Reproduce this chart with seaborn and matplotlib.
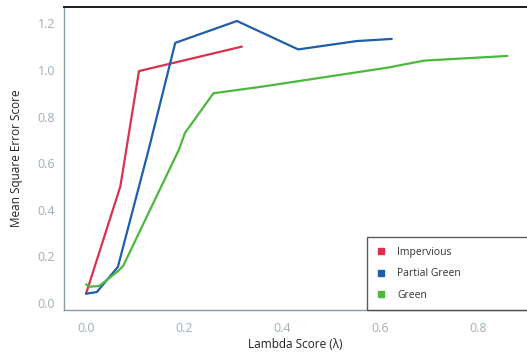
import matplotlib
matplotlib.use("Agg")
import matplotlib.pyplot as plt
from matplotlib.lines import Line2D
import numpy as np
import pandas as pd
import seaborn as sns

# Series values (lambda score vs. mean square error score)
impervious_x = [0.0, 0.07, 0.108, 0.318]
impervious_y = [0.04, 0.50, 0.995, 1.10]

partial_x = [0.0, 0.022, 0.065, 0.128, 0.182, 0.308, 0.433, 0.553, 0.624]
partial_y = [0.04, 0.047, 0.155, 0.66, 1.116, 1.21, 1.088, 1.124, 1.133]

green_x = [0.0, 0.008, 0.027, 0.067, 0.076, 0.19, 0.202, 0.26, 0.355, 0.616, 0.69, 0.86]
green_y = [0.08, 0.07, 0.073, 0.14, 0.16, 0.66, 0.73, 0.90, 0.927, 1.01, 1.04, 1.06]

series_names = ["Impervious", "Partial Green", "Green"]
series_colors = ["#d8324c", "#1f5ea8", "#4cb83e"]

x_ticks = [0.0, 0.2, 0.4, 0.6, 0.8]
y_ticks = [0.0, 0.2, 0.4, 0.6, 0.8, 1.0, 1.2]

frames = []
for name, xs, ys in zip(series_names,
                        [impervious_x, partial_x, green_x],
                        [impervious_y, partial_y, green_y]):
    frames.append(pd.DataFrame({"lambda": xs, "mse": ys, "type": name}))
df = pd.concat(frames, ignore_index=True)

sns.set_style("white")
plt.rcParams["font.family"] = ["Open Sans", "DejaVu Sans"]

fig = plt.figure(figsize=(5.27, 3.57), dpi=100)
ax = fig.add_axes([64 / 527, 1 - 310 / 357, (527 - 64) / 527, (310 - 7) / 357])

sns.lineplot(data=df, x="lambda", y="mse", hue="type",
             palette=dict(zip(series_names, series_colors)),
             sort=False, estimator=None, linewidth=1.6, legend=False, ax=ax)

ax.set_xlim(-0.045, 0.9)
ax.set_ylim(-0.03, 1.27)
ax.set_xticks(x_ticks)
ax.set_xticklabels([f"{t:.1f}" for t in x_ticks])
ax.set_yticks(y_ticks)
ax.set_yticklabels([f"{t:.1f}" for t in y_ticks])
ax.tick_params(axis="both", colors="#a9b6bd", labelsize=9, length=3, width=0.8,
               direction="out", labelcolor="#9fb0b8")
ax.tick_params(axis="x", pad=6)

ax.set_xlabel("Lambda Score (λ)", fontsize=8.5, color="#222222", labelpad=2)
ax.set_ylabel("Mean Square Error Score", fontsize=8.5, color="#222222", labelpad=10)

for side in ["left", "bottom"]:
    ax.spines[side].set_color("#8c9aa3")
    ax.spines[side].set_linewidth(1.0)
ax.spines["top"].set_color("#1a1a1a")
ax.spines["top"].set_linewidth(1.4)
ax.spines["right"].set_visible(False)

handles = [Line2D([], [], marker="s", linestyle="none", markersize=5,
                  markerfacecolor=c, markeredgecolor=c) for c in series_colors]
leg = ax.legend(handles, series_names, loc="lower left",
                bbox_to_anchor=(0.654, 0.0, 0.40, 0.234), mode="expand",
                fontsize=7.5, frameon=True, fancybox=False, edgecolor="#333333",
                borderpad=0.9, labelspacing=1.0, handlelength=1.0,
                handletextpad=1.0, borderaxespad=0.0)
leg.get_frame().set_linewidth(1.0)
for t in leg.get_texts():
    t.set_color("#333333")

fig.savefig("out.png", dpi=100)
